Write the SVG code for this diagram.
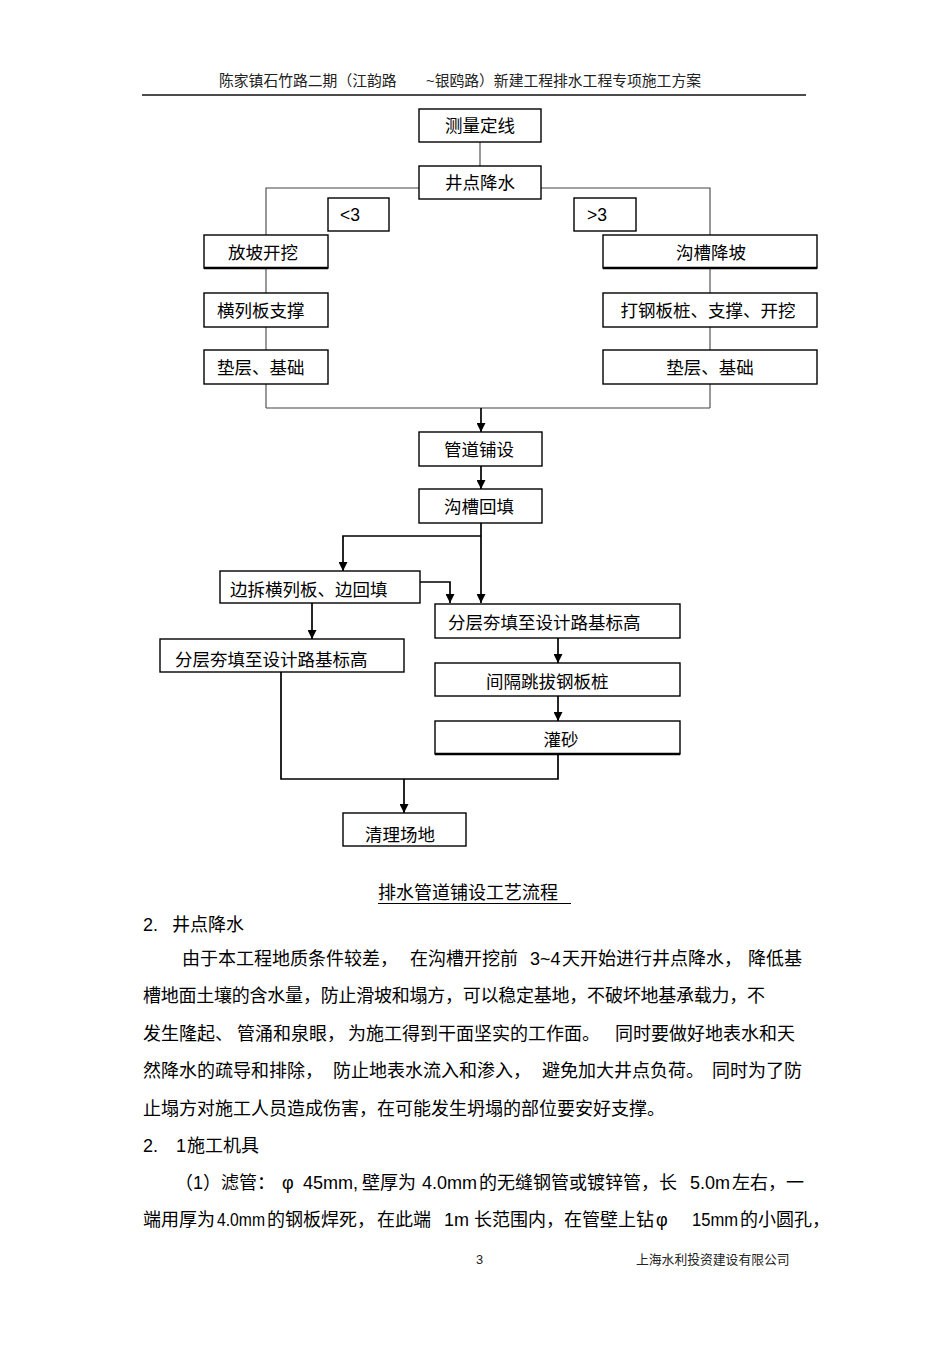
<svg xmlns="http://www.w3.org/2000/svg" width="950" height="1345" viewBox="0 0 950 1345">
<style>
.t{font-family:"Liberation Sans","Noto Sans CJK SC",sans-serif;fill:#000}
.b{font-size:18px}
.n{font-size:17.5px}
.h{font-size:14.8px;fill:#222}
.f{font-size:12.8px;fill:#222}
.box{fill:#fff;stroke:#000;stroke-width:1.4}
.thin{fill:none;stroke:#444;stroke-width:1.1}
.thick{fill:none;stroke:#000;stroke-width:1.7}
.bot{stroke:#000;stroke-width:2.4}
</style>
<defs>
<marker id="ah" viewBox="0 0 10 10" refX="10" refY="5" markerWidth="11" markerHeight="9" orient="auto" markerUnits="userSpaceOnUse">
<path d="M0,0 L10,5 L0,10 Z" fill="#000"/>
</marker>
</defs>
<rect width="950" height="1345" fill="#fff"/>

<!-- header -->
<g id="header">
<text class="t h" x="219" y="85.5">陈家镇石竹路二期（江韵路</text>
<text class="t h" x="426" y="85.5">~银鸥路）新建工程排水工程专项施工方案</text>
<line x1="142" y1="95" x2="806" y2="95" stroke="#111" stroke-width="1.3"/>
</g>

<!-- connectors -->
<g id="connectors">
<line class="thin" x1="480" y1="142" x2="480" y2="166"/>
<polyline class="thin" points="419,188 266,188 266,235"/>
<polyline class="thin" points="541,188 710,188 710,235"/>
<line class="thin" x1="266" y1="268" x2="266" y2="293"/>
<line class="thin" x1="266" y1="327" x2="266" y2="350"/>
<line class="thin" x1="266" y1="384" x2="266" y2="408"/>
<line class="thin" x1="710" y1="268" x2="710" y2="293"/>
<line class="thin" x1="710" y1="327" x2="710" y2="350"/>
<line class="thin" x1="710" y1="384" x2="710" y2="408"/>
<line class="thin" x1="266" y1="408" x2="710" y2="408"/>
<line class="thick" x1="481" y1="408" x2="481" y2="432" marker-end="url(#ah)"/>
<line class="thick" x1="481" y1="466" x2="481" y2="489" marker-end="url(#ah)"/>
<line class="thick" x1="481" y1="523" x2="481" y2="603" marker-end="url(#ah)"/>
<polyline class="thick" points="481,536 343,536 343,571" marker-end="url(#ah)"/>
<polyline class="thick" points="420,582 450,582 450,603" marker-end="url(#ah)"/>
<line class="thick" x1="312" y1="603" x2="312" y2="639" marker-end="url(#ah)"/>
<line class="thick" x1="558" y1="638" x2="558" y2="663" marker-end="url(#ah)"/>
<line class="thick" x1="558" y1="696" x2="558" y2="721" marker-end="url(#ah)"/>
<polyline class="thick" points="558,754 558,779 281,779 281,672"/>
<line class="thick" x1="404" y1="779" x2="404" y2="813" marker-end="url(#ah)"/>
</g>

<!-- nodes -->
<g id="n-celiang"><rect class="box" x="419" y="109" width="122" height="33"/><text class="t n" x="480" y="132" text-anchor="middle">测量定线</text></g>
<g id="n-jingdian"><rect class="box" x="419" y="166" width="122" height="33"/><text class="t n" x="480" y="189" text-anchor="middle">井点降水</text></g>
<g id="n-lt3"><rect class="box" x="328" y="198" width="61" height="33"/><text class="t n" x="340" y="221">&lt;3</text></g>
<g id="n-gt3"><rect class="box" x="574" y="198" width="62" height="33"/><text class="t n" x="587" y="221">&gt;3</text></g>
<g id="n-fangpo"><rect class="box" x="204" y="235" width="124" height="33"/><line class="bot" x1="204" y1="268" x2="328" y2="268"/><text class="t n" x="263" y="259" text-anchor="middle">放坡开挖</text></g>
<g id="n-goucaojiangpo"><rect class="box" x="603" y="235" width="214" height="33"/><line class="bot" x1="603" y1="268" x2="817" y2="268"/><text class="t n" x="711" y="259" text-anchor="middle">沟槽降坡</text></g>
<g id="n-henglieban"><rect class="box" x="204" y="293" width="124" height="34"/><text class="t n" x="217" y="317">横列板支撑</text></g>
<g id="n-dagangban"><rect class="box" x="603" y="293" width="214" height="34"/><text class="t n" x="708" y="317" text-anchor="middle">打钢板桩、支撑、开挖</text></g>
<g id="n-dianceng-l"><rect class="box" x="204" y="350" width="124" height="34"/><text class="t n" x="217" y="374">垫层、基础</text></g>
<g id="n-dianceng-r"><rect class="box" x="603" y="350" width="214" height="34"/><text class="t n" x="710" y="374" text-anchor="middle">垫层、基础</text></g>
<g id="n-guandao"><rect class="box" x="419" y="432" width="123" height="34"/><text class="t n" x="479" y="456" text-anchor="middle">管道铺设</text></g>
<g id="n-huitian"><rect class="box" x="419" y="489" width="123" height="34"/><text class="t n" x="479" y="513" text-anchor="middle">沟槽回填</text></g>
<g id="n-biancai"><rect class="box" x="220" y="571" width="200" height="32"/><text class="t n" x="230" y="596">边拆横列板、边回填</text></g>
<g id="n-fenceng-r"><rect class="box" x="435" y="604" width="245" height="34"/><text class="t n" x="448" y="629">分层夯填至设计路基标高</text></g>
<g id="n-fenceng-l"><rect class="box" x="160" y="639" width="244" height="33"/><text class="t n" x="175" y="666">分层夯填至设计路基标高</text></g>
<g id="n-jiange"><rect class="box" x="435" y="663" width="245" height="33"/><text class="t n" x="486" y="688">间隔跳拔钢板桩</text></g>
<g id="n-guansha"><rect class="box" x="435" y="721" width="245" height="33"/><line class="bot" x1="435" y1="754" x2="680" y2="754"/><text class="t n" x="561" y="746" text-anchor="middle">灌砂</text></g>
<g id="n-qingli"><rect class="box" x="343" y="813" width="123" height="33"/><text class="t n" x="365" y="841">清理场地</text></g>

<!-- caption and body text -->
<g id="body">
<text class="t b" x="378" y="899">排水管道铺设工艺流程</text>
<line x1="378" y1="903.5" x2="571" y2="903.5" stroke="#000" stroke-width="1"/>

<text class="t b" x="143" y="931">2.</text>
<text class="t b" x="172" y="931">井点降水</text>

<text class="t b" y="964.5"><tspan x="182">由于本工程地质条件较差，</tspan><tspan x="410">在沟槽开挖前</tspan><tspan x="530">3~4</tspan><tspan x="562">天开始进行井点降水，</tspan><tspan x="748">降低基</tspan></text>
<text class="t b" x="143" y="1002" textLength="622" lengthAdjust="spacing">槽地面土壤的含水量，防止滑坡和塌方，可以稳定基地，不破坏地基承载力，不</text>
<text class="t b" y="1039.5"><tspan x="143">发生隆起、</tspan><tspan x="237">管涌和泉眼，</tspan><tspan x="348">为施工得到干面坚实的工作面。</tspan><tspan x="615">同时要做好地表水和天</tspan></text>
<text class="t b" y="1076.5"><tspan x="143">然降水的疏导和排除，</tspan><tspan x="333">防止地表水流入和渗入，</tspan><tspan x="542">避免加大井点负荷。</tspan><tspan x="712">同时为了防</tspan></text>
<text class="t b" x="143" y="1114.5">止塌方对施工人员造成伤害，在可能发生坍塌的部位要安好支撑。</text>
<text class="t b" y="1151.5"><tspan x="143">2.</tspan><tspan x="176">1</tspan><tspan x="187">施工机具</tspan></text>
<text class="t b" y="1188.5"><tspan x="175">（1）滤管：</tspan><tspan x="282">φ</tspan><tspan x="303">45mm,</tspan><tspan x="362">壁厚为</tspan><tspan x="422">4.0mm</tspan><tspan x="479">的无缝钢管或镀锌管，长</tspan><tspan x="690">5.0m</tspan><tspan x="732">左右，一</tspan></text>
<text class="t b" y="1225.5"><tspan x="143">端用厚为</tspan><tspan x="217" textLength="48" lengthAdjust="spacingAndGlyphs">4.0mm</tspan><tspan x="267">的钢板焊死，</tspan><tspan x="377">在此端</tspan><tspan x="444">1m</tspan><tspan x="474">长范围内，在管壁上钻</tspan><tspan x="656">φ</tspan><tspan x="692" textLength="46" lengthAdjust="spacingAndGlyphs">15mm</tspan><tspan x="740">的小圆孔，</tspan></text>
</g>

<!-- footer -->
<g id="footer">
<text class="t f" x="476" y="1264">3</text>
<text class="t f" x="636" y="1264">上海水利投资建设有限公司</text>
</g>
</svg>
